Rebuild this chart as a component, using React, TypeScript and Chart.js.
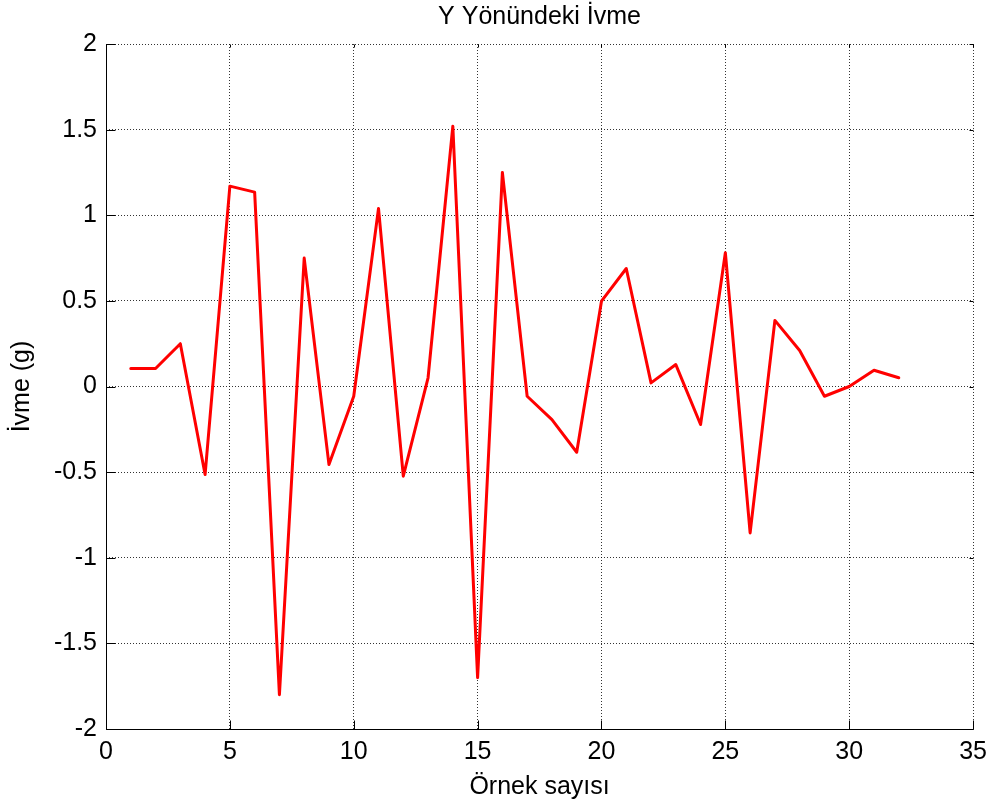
import React, { useEffect, useRef } from 'react';
import { Chart, registerables } from 'chart.js';

Chart.register(...registerables);

// ---- data ----
const sampleIndex: number[] = [
  1, 2, 3, 4, 5, 6, 7, 8, 9, 10, 11, 12, 13, 14, 15, 16,
  17, 18, 19, 20, 21, 22, 23, 24, 25, 26, 27, 28, 29, 30, 31, 32,
];
const accelY: number[] = [
  0.105, 0.105, 0.25, -0.514, 1.17, 1.135, -1.8, 0.75, -0.456, -0.057, 1.04, -0.524, 0.051, 1.52, -1.7, 1.25,
  -0.057, -0.193, -0.384, 0.498, 0.689, 0.021, 0.128, -0.222, 0.781, -0.855, 0.386, 0.21, -0.057, 0.0, 0.095, 0.051,
];
const xTickValues: number[] = [0, 5, 10, 15, 20, 25, 30, 35];
const yTickValues: number[] = [-2, -1.5, -1, -0.5, 0, 0.5, 1, 1.5, 2];
const chartTitle = 'Y Yönündeki İvme';
const xAxisLabel = 'Örnek sayısı';
const yAxisLabel = 'İvme (g)';

const FONT = '"Liberation Sans", Arial, sans-serif';
const FONT_SIZE = 25;

const boxPlugin = {
  id: 'matlabBox',
  afterDraw(chart: any) {
    const { ctx, chartArea } = chart;
    const xs = chart.scales.x;
    const ys = chart.scales.y;
    const L = Math.round(chartArea.left) + 0.5;
    const R = Math.round(chartArea.right) + 0.5;
    const T = Math.round(chartArea.top) + 0.5;
    const B = Math.round(chartArea.bottom) + 0.5;
    ctx.save();
    ctx.strokeStyle = '#000';
    ctx.lineWidth = 1;
    ctx.setLineDash([]);
    ctx.beginPath();
    ctx.moveTo(L, T);
    ctx.lineTo(L, B);
    ctx.lineTo(R, B);
    xTickValues.forEach((v) => {
      const px = Math.round(xs.getPixelForValue(v)) + 0.5;
      ctx.moveTo(px, B);
      ctx.lineTo(px, B - 9);
      ctx.moveTo(px, T);
      ctx.lineTo(px, T + 3);
    });
    yTickValues.forEach((v) => {
      const py = Math.round(ys.getPixelForValue(v)) + 0.5;
      ctx.moveTo(L, py);
      ctx.lineTo(L + 9, py);
      ctx.moveTo(R, py);
      ctx.lineTo(R - 4, py);
    });
    ctx.stroke();
    ctx.restore();
  },
};

export default function App() {
  const canvasRef = useRef<HTMLCanvasElement | null>(null);

  useEffect(() => {
    document.body.style.margin = '0';
    const canvas = canvasRef.current;
    if (!canvas) return;
    const points = sampleIndex.map((x, i) => ({ x, y: accelY[i] }));
    const gridOpts = {
      color: 'rgba(0,0,0,0.8)',
      lineWidth: 1,
      drawTicks: false,
    };
    const chart = new Chart(canvas, {
      type: 'line',
      data: {
        datasets: [
          {
            data: points,
            borderColor: '#ff0000',
            borderWidth: 3,
            borderJoinStyle: 'round',
            borderCapStyle: 'round',
            pointRadius: 0,
            fill: false,
            tension: 0,
          },
        ],
      },
      options: {
        responsive: false,
        animation: false,
        layout: { padding: { left: 0, right: 21, top: 0, bottom: 0 } },
        plugins: {
          legend: { display: false },
          tooltip: { enabled: false },
          title: {
            display: true,
            text: chartTitle,
            fullSize: false,
            color: '#000',
            font: { family: FONT, size: FONT_SIZE, weight: 'normal' },
            padding: { top: 2, bottom: 12 },
          },
        },
        scales: {
          x: {
            type: 'linear',
            min: 0,
            max: 35,
            afterBuildTicks: (scale: any) => {
              scale.ticks = xTickValues.map((v) => ({ value: v }));
            },
            afterFit: (scale: any) => {
              scale.height = 80;
            },
            ticks: {
              color: '#000',
              font: { family: FONT, size: FONT_SIZE },
              padding: 8,
              maxRotation: 0,
              autoSkip: false,
              callback: (v: any) => String(v),
            },
            grid: { ...gridOpts },
            border: { display: false, dash: [1, 2] },
            title: {
              display: true,
              text: xAxisLabel,
              color: '#000',
              font: { family: FONT, size: FONT_SIZE },
              padding: { top: 0, bottom: 7 },
            },
          },
          y: {
            type: 'linear',
            min: -2,
            max: 2,
            afterBuildTicks: (scale: any) => {
              scale.ticks = yTickValues.map((v) => ({ value: v }));
            },
            afterFit: (scale: any) => {
              scale.width = 106;
            },
            ticks: {
              color: '#000',
              font: { family: FONT, size: FONT_SIZE },
              padding: 9,
              autoSkip: false,
              callback: (v: any) => String(v),
            },
            grid: { ...gridOpts },
            border: { display: false, dash: [1, 2] },
            title: {
              display: true,
              text: yAxisLabel,
              color: '#000',
              font: { family: FONT, size: FONT_SIZE },
              padding: { top: 7, bottom: 0 },
            },
          },
        },
      } as any,
      plugins: [boxPlugin],
    });
    return () => {
      chart.destroy();
    };
  }, []);

  return (
    <div style={{ width: 995, height: 809 }}>
      <canvas ref={canvasRef} width={995} height={809} style={{ display: 'block' }} />
    </div>
  );
}
